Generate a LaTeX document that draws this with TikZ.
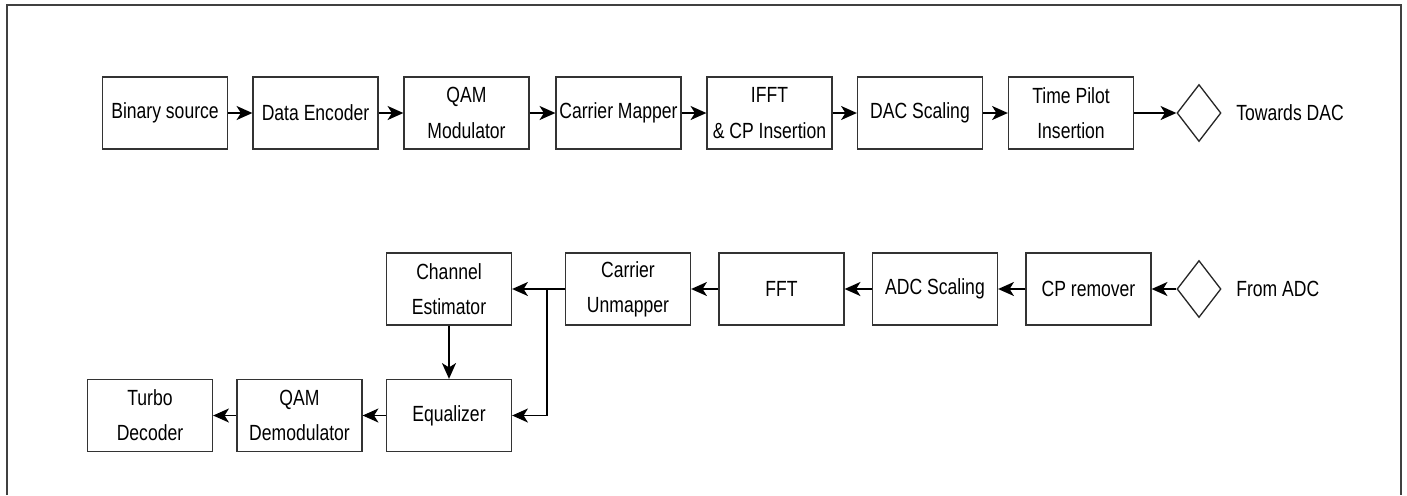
\documentclass[tikz,border=0pt]{standalone}
\usepackage{fontspec}
\setmainfont[FakeStretch=0.8]{Liberation Sans}
\usetikzlibrary{arrows.meta,shapes.geometric}

\begin{document}
\begin{tikzpicture}[x=0.02cm,y=-0.02cm,
        block/.style={draw=black!80,line width=0.75pt,minimum width=2.5cm,
            minimum height=1.44cm,inner sep=1pt,align=center,
            font=\fontsize{12.5}{20}\selectfont},
        port/.style={draw=black!85,line width=0.75pt,diamond,inner sep=0pt,
            minimum width=0.88cm,minimum height=1.14cm},
        lbl/.style={anchor=west,inner sep=0pt,font=\fontsize{12.5}{20}\selectfont},
        flow/.style={-{Stealth[length=9pt,width=8pt,inset=2.5pt]},line width=0.75pt}]
\useasboundingbox (0,0) rectangle (1407,495);
\draw[black!75,line width=0.9pt] (7,495) -- (7,5) -- (1401,5) -- (1401,495);

% transmitter
\node[block] (bin) at (165,113) {Binary source};
\node[block] (enc) at (315.5,113) {Data Encoder};
\node[block] (qmod) at (466.5,113) {QAM\\Modulator};
\node[block] (map) at (618.5,113) {Carrier Mapper};
\node[block] (ifft) at (769.5,113) {IFFT\\\& CP Insertion};
\node[block] (dac) at (920,113) {DAC Scaling};
\node[block] (pilot) at (1071,113) {Time Pilot\\Insertion};
\node[port] (out) at (1199,113) {};
\node[lbl] (todac) at (1236,113) {Towards DAC};

\draw[flow] (bin) -- (enc);
\draw[flow] (enc) -- (qmod);
\draw[flow] (qmod) -- (map);
\draw[flow] (map) -- (ifft);
\draw[flow] (ifft) -- (dac);
\draw[flow] (dac) -- (pilot);
\draw[flow] (pilot) -- (out);

% receiver
\node[port] (in) at (1199,289) {};
\node[lbl] (fromadc) at (1236,289) {From ADC};
\node[block] (cprem) at (1088.5,289) {CP remover};
\node[block] (adc) at (935,289) {ADC Scaling};
\node[block] (fft) at (781.5,289) {FFT};
\node[block] (unmap) at (628,289) {Carrier\\Unmapper};
\node[block] (chest) at (449,289) {Channel\\Estimator};
\node[block] (equal) at (449,415.5) {Equalizer};
\node[block] (qdem) at (299.5,415.5) {QAM\\Demodulator};
\node[block] (turbo) at (150,415.5) {Turbo\\Decoder};
\coordinate (split) at (547,289);

\draw[flow] (in) -- (cprem);
\draw[flow] (cprem) -- (adc);
\draw[flow] (adc) -- (fft);
\draw[flow] (fft) -- (unmap);
\draw[flow] (unmap) -- (chest);
\draw[flow] (split) |- (equal);
\draw[flow] (chest) -- (equal);
\draw[flow] (equal) -- (qdem);
\draw[flow] (qdem) -- (turbo);

\end{tikzpicture}
\end{document}
